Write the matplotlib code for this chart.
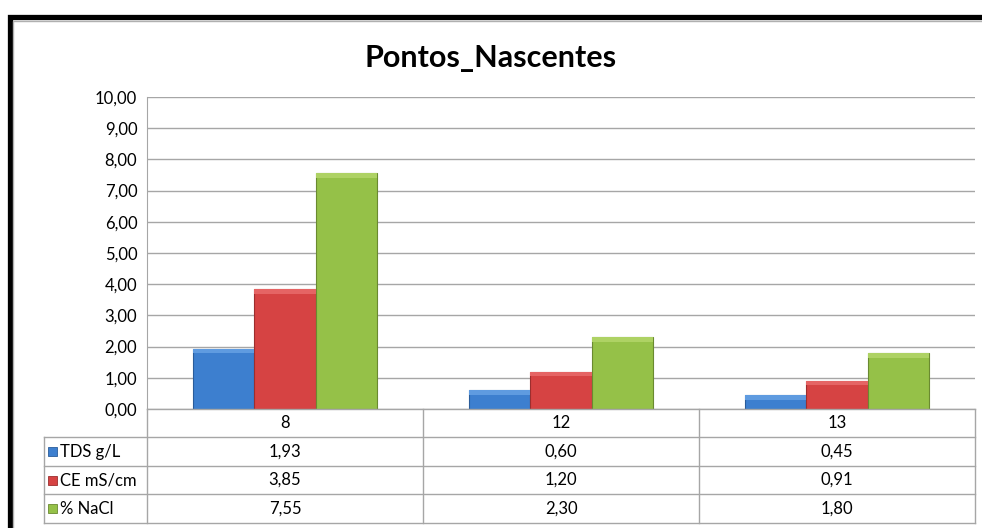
import matplotlib
matplotlib.use('Agg')
import matplotlib.pyplot as plt
from matplotlib.lines import Line2D
from matplotlib.patches import Rectangle
import numpy as np

W, H = 982, 528

categories = ['8', '12', '13']
series_names = ['TDS g/L', 'CE mS/cm', '% NaCl']
tds = [1.93, 0.60, 0.45]
ce = [3.85, 1.20, 0.91]
nacl = [7.55, 2.30, 1.80]
yticks = [0, 1, 2, 3, 4, 5, 6, 7, 8, 9, 10]

colors = ['#3d7fcf', '#d64343', '#95c148']
tops = ['#5f9be0', '#e56464', '#aed264']
edges = ['#2a5c9a', '#9c2e2e', '#6a8a30']

plt.rcParams['font.family'] = ['Lato', 'DejaVu Sans']


def fx(px):
    return px / W


def fy(py):
    return 1 - py / H


def fmt(v):
    return f'{v:.2f}'.replace('.', ',')


fig = plt.figure(figsize=(W / 100, H / 100), dpi=100)

# frame of the original chart (cropped at the right and bottom)
fig.add_artist(Rectangle((fx(9.5), fy(600)), 1.2, fy(17) - fy(600), transform=fig.transFigure,
                         fill=False, edgecolor='black', linewidth=3.8))
fig.add_artist(Rectangle((fx(13), fy(600)), 1.2, fy(20.5) - fy(600), transform=fig.transFigure,
                         fill=False, edgecolor='#b0b0b0', linewidth=1))

fig.text(0.5, fy(58), 'Pontos_Nascentes', ha='center', va='center', fontsize=22, fontweight='bold')

ax = fig.add_axes([fx(147), fy(409), fx(975) - fx(147), fy(97) - fy(409)])
x = np.arange(len(categories))
bw = 0.222
bevel = 0.15  # a few pixels of highlight at the top of each bar
for i, vals in enumerate([tds, ce, nacl]):
    bars = ax.bar(x + (i - 1) * bw, vals, bw, color=colors[i], edgecolor=edges[i], linewidth=0.8, zorder=3)
    for b in bars:
        ax.add_patch(Rectangle((b.get_x(), b.get_height() - bevel), b.get_width(), bevel,
                               facecolor=tops[i], edgecolor='none', zorder=4))

ax.set_xlim(-0.5, 2.5)
ax.set_ylim(0, 10)
ax.set_yticks(yticks)
ax.set_yticklabels([fmt(v) for v in yticks], fontsize=12)
ax.tick_params(axis='y', length=0, pad=7)
ax.set_xticks([])
ax.grid(axis='y', color='#a6a6a6', linewidth=1)
for s in ['top', 'right', 'bottom']:
    ax.spines[s].set_visible(False)
ax.spines['left'].set_color('#a6a6a6')

# data table below the plot
lc = '#a6a6a6'
trans = fig.transFigure
row_lines = [437, 466, 494, 523]
for py in row_lines:
    fig.add_artist(Line2D([fx(44), fx(975)], [fy(py), fy(py)], transform=trans, color=lc, lw=1))
fig.add_artist(Line2D([fx(147), fx(975)], [fy(409), fy(409)], transform=trans, color=lc, lw=1))
fig.add_artist(Line2D([fx(44), fx(44)], [fy(437), fy(523)], transform=trans, color=lc, lw=1))
fig.add_artist(Line2D([fx(147), fx(147)], [fy(409), fy(523)], transform=trans, color=lc, lw=1))
blend = matplotlib.transforms.blended_transform_factory(ax.transData, trans)
for b in [0.5, 1.5, 2.5]:
    ax.add_artist(Line2D([b, b], [fy(409), fy(523)], transform=blend, color=lc, lw=1, clip_on=False))

row_mid = [(409 + 437) / 2, (437 + 466) / 2, (466 + 494) / 2, (494 + 523) / 2]
for j, c in enumerate(categories):
    ax.text(j, fy(row_mid[0]), c, transform=blend, ha='center', va='center', fontsize=12)
for i, (name, vals) in enumerate(zip(series_names, [tds, ce, nacl])):
    ym = fy(row_mid[i + 1])
    fig.add_artist(Rectangle((fx(48), ym - 4.5 / H), 9 / W, 9 / H, transform=trans,
                             facecolor=colors[i], edgecolor=edges[i], lw=0.6))
    fig.text(fx(60), ym, name, ha='left', va='center', fontsize=12)
    for j, v in enumerate(vals):
        ax.text(j, ym, fmt(v), transform=blend, ha='center', va='center', fontsize=12)

fig.savefig('out.png', dpi=100)
